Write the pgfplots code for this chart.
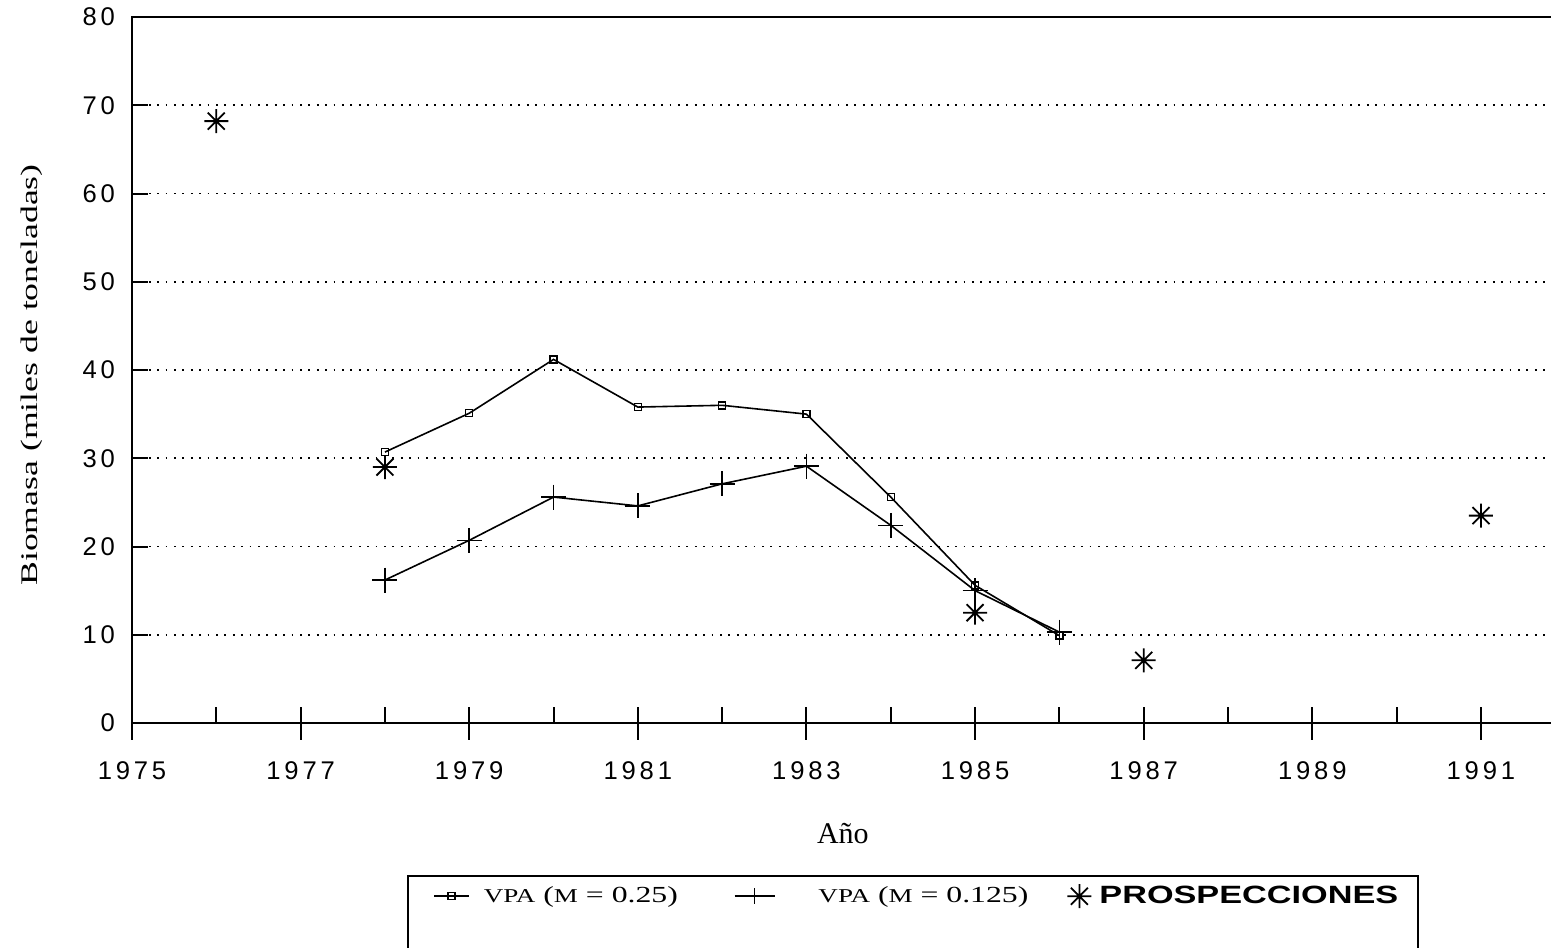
\documentclass[border=0pt]{standalone}
\usepackage{fontspec}
\setmainfont{Liberation Serif}
\newfontfamily\tickfont[LetterSpace=15]{Liberation Sans}
\newfontfamily\sansfont{Liberation Sans}
\usepackage{graphicx}
\usepackage{pgfplots}
\pgfplotsset{compat=1.18}
\pgfdeclareplotmark{ast8}{%
  \pgfpathmoveto{\pgfqpoint{-\pgfplotmarksize}{0pt}}%
  \pgfpathlineto{\pgfqpoint{\pgfplotmarksize}{0pt}}%
  \pgfpathmoveto{\pgfqpoint{0pt}{-\pgfplotmarksize}}%
  \pgfpathlineto{\pgfqpoint{0pt}{\pgfplotmarksize}}%
  \pgfpathmoveto{\pgfqpoint{-0.707\pgfplotmarksize}{-0.707\pgfplotmarksize}}%
  \pgfpathlineto{\pgfqpoint{0.707\pgfplotmarksize}{0.707\pgfplotmarksize}}%
  \pgfpathmoveto{\pgfqpoint{-0.707\pgfplotmarksize}{0.707\pgfplotmarksize}}%
  \pgfpathlineto{\pgfqpoint{0.707\pgfplotmarksize}{-0.707\pgfplotmarksize}}%
  \pgfusepathqstroke}
\newcommand\sm[1]{{\fontsize{9.8pt}{11pt}\selectfont #1}}
\pgfplotsset{
  legA/.style={legend image code/.code={\draw[##1, mark repeat=2, mark phase=2] plot coordinates {(5pt,0pt)(13.75pt,0pt)(22.5pt,0pt)};}},
  legB/.style={legend image code/.code={\draw[##1, mark repeat=2, mark phase=2, mark size=4pt] plot coordinates {(0pt,0pt)(10pt,0pt)(20pt,0pt)};}},
  legC/.style={legend image code/.code={\draw[##1] plot coordinates {(6pt,0pt)};}},
}
\begin{document}
\begin{tikzpicture}
\useasboundingbox (0,0) rectangle (775.5pt,473.5pt);
% short strip under the main axis: lower halves of the odd-year ticks
\begin{axis}[
  at={(66pt,103.5pt)}, anchor=south west,
  scale only axis, width=716.6pt, height=8.5pt,
  xmin=1975, xmax=1992, ymin=0, ymax=1,
  hide axis, clip=false,
]
\addplot[ycomb, black, line width=1pt, mark=none]
  coordinates {(1975,1)(1977,1)(1979,1)(1981,1)(1983,1)(1985,1)(1987,1)(1989,1)(1991,1)};
\end{axis}
\begin{axis}[
  at={(66pt,112pt)}, anchor=south west,
  scale only axis, width=716.6pt, height=353pt,
  xmin=1975, xmax=1992, ymin=0, ymax=80,
  axis line style={line width=1pt},
  tick pos=left,
  tick align=inside,
  major tick length=8pt,
  tick style={line width=1pt, black},
  xtick={1975,1976,...,1991},
  xticklabels={1975,,1977,,1979,,1981,,1983,,1985,,1987,,1989,,1991},
  ytick={0,10,...,80},
  ymajorgrids,
  major grid style={black, line width=0.9pt, dash pattern=on 0.9pt off 3.3pt},
  ticklabel style={font=\tickfont\fontsize{12.8pt}{14pt}\selectfont},
  /pgf/number format/assume math mode=true,
  xticklabel style={yshift=-16pt},
  yticklabel style={xshift=-5pt},
  xlabel={Año},
  ylabel={\scalebox{1.5}[1]{Biomasa (miles de toneladas)}},
  xlabel style={font=\fontsize{15pt}{17pt}\selectfont, at={(axis description cs:0.496,-0.157)}, anchor=center},
  ylabel style={font=\fontsize{11.9pt}{13pt}\selectfont, at={(axis description cs:-0.0698,0.493)}, anchor=center},
  legend columns=3,
  legend cell align=left,
  legend style={at={(axis description cs:0.1919,-0.2153)}, anchor=north west,
    draw=black, line width=1pt, inner xsep=8pt, inner ysep=3pt,
    font=\fontsize{11.5pt}{13pt}\selectfont,
    /tikz/column 1/.style={column sep=5pt},
    /tikz/column 2/.style={column sep=26pt},
    /tikz/column 3/.style={column sep=19.5pt},
    /tikz/column 4/.style={column sep=17.5pt},
    /tikz/column 5/.style={column sep=2pt}},
]
\addplot[black, line width=0.8pt, mark=square, mark size=1.75pt, mark options={line width=0.7pt, solid}, legA]
  coordinates {(1978,30.7)(1979,35.1)(1980,41.2)(1981,35.8)(1982,36.0)(1983,35.0)(1984,25.6)(1985,15.6)(1986,9.9)};
\addlegendentry{\scalebox{1.38}[1]{\sm{VPA} (\sm{M} = 0.25)}}
\addplot[black, line width=0.8pt, mark=+, mark size=6.25pt, mark options={line width=0.8pt, solid}, legB]
  coordinates {(1978,16.2)(1979,20.7)(1980,25.6)(1981,24.6)(1982,27.1)(1983,29.1)(1984,22.4)(1985,15.0)(1986,10.3)};
\addlegendentry{\scalebox{1.38}[1]{\sm{VPA} (\sm{M} = 0.125)}}
\addplot[black, only marks, mark=ast8, mark size=6pt, mark options={line width=0.9pt}, legC]
  coordinates {(1976,68.2)(1978,29.0)(1985,12.5)(1987,7.1)(1991,23.5)};
\addlegendentry{\scalebox{1.37}[1]{\sansfont\bfseries\fontsize{12.5pt}{14pt}\selectfont PROSPECCIONES}}
\addlegendimage{empty legend}
\addlegendentry{\rule{0pt}{30pt}}
\end{axis}
\end{tikzpicture}
\end{document}
